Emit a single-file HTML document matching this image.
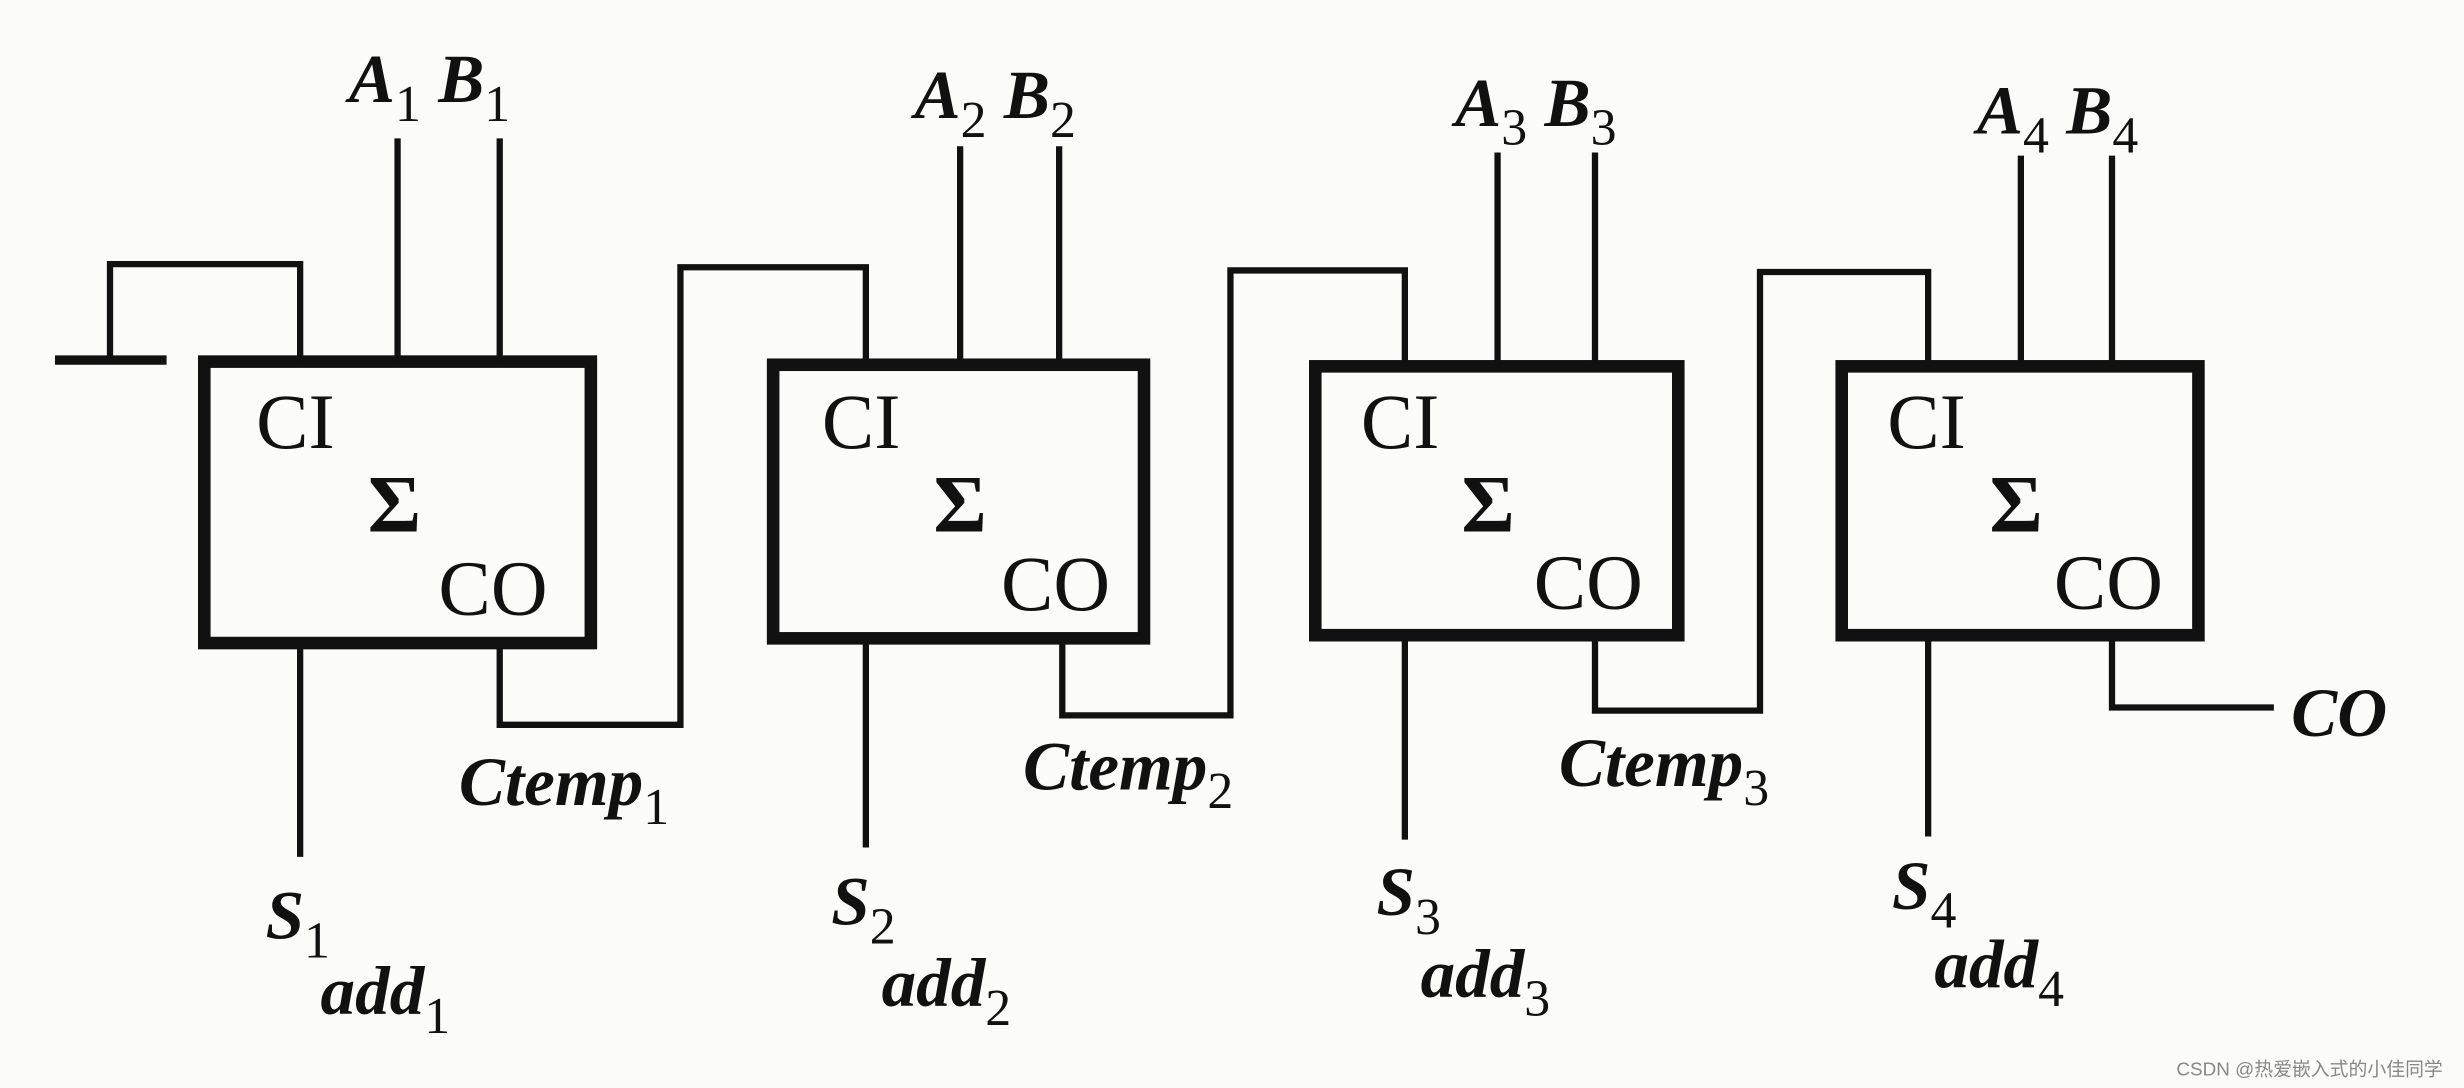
<!DOCTYPE html>
<html><head><meta charset="utf-8"><style>
html,body{margin:0;padding:0;background:#fbfbfa;}
svg{display:block}
text{font-family:"Liberation Serif",serif;fill:#111;}
.i{font-style:italic;font-weight:bold;font-size:44px}
.s{font-size:33px;font-style:normal;font-weight:normal}
.r{font-size:50px}
.sg{font-size:52px;font-weight:bold}
</style></head><body>
<svg width="2464" height="1088" viewBox="0 0 1568 692" preserveAspectRatio="none">
<g fill="none" stroke="#111" stroke-width="8">
<rect x="130" y="230" width="246" height="179"/>
<rect x="492" y="232" width="236" height="174"/>
<rect x="837" y="233" width="231" height="171"/>
<rect x="1172" y="233" width="227" height="171"/>
</g>
<g fill="none" stroke="#111" stroke-width="4">
<line x1="253" y1="88" x2="253" y2="230"/><line x1="318" y1="88" x2="318" y2="230"/>
<line x1="611" y1="93" x2="611" y2="232"/><line x1="674" y1="93" x2="674" y2="232"/>
<line x1="953" y1="97" x2="953" y2="233"/><line x1="1015" y1="97" x2="1015" y2="233"/>
<line x1="1286" y1="99" x2="1286" y2="233"/><line x1="1344" y1="99" x2="1344" y2="233"/>
<polyline points="191,230 191,168 70,168 70,229"/>
<line x1="35" y1="229" x2="106" y2="229" stroke-width="6"/>
<line x1="191" y1="409" x2="191" y2="545"/>
<line x1="551" y1="406" x2="551" y2="539"/>
<line x1="894" y1="404" x2="894" y2="534"/>
<line x1="1227" y1="404" x2="1227" y2="532"/>
<polyline points="318,409 318,461 433,461 433,170 551,170 551,232"/>
<polyline points="676,406 676,455 783,455 783,172 894,172 894,233"/>
<polyline points="1015,404 1015,452 1120,452 1120,173 1227,173 1227,233"/>
<polyline points="1344,404 1344,450 1447,450"/>
</g>
<g>
<text class="i" x="222" y="65">A<tspan class="s" dy="12">1</tspan><tspan dy="-12"> B</tspan><tspan class="s" dy="12">1</tspan></text>
<text class="i" x="582" y="75">A<tspan class="s" dy="12">2</tspan><tspan dy="-12"> B</tspan><tspan class="s" dy="12">2</tspan></text>
<text class="i" x="926" y="80">A<tspan class="s" dy="12">3</tspan><tspan dy="-12"> B</tspan><tspan class="s" dy="12">3</tspan></text>
<text class="i" x="1258" y="85">A<tspan class="s" dy="12">4</tspan><tspan dy="-12"> B</tspan><tspan class="s" dy="12">4</tspan></text>

<text class="r" x="163" y="285">CI</text><text class="sg" x="234" y="338">Σ</text><text class="r" x="279" y="391">CO</text>
<text class="r" x="523" y="285">CI</text><text class="sg" x="594" y="338">Σ</text><text class="r" x="637" y="388">CO</text>
<text class="r" x="866" y="285">CI</text><text class="sg" x="930" y="338">Σ</text><text class="r" x="976" y="387">CO</text>
<text class="r" x="1201" y="285">CI</text><text class="sg" x="1266" y="338">Σ</text><text class="r" x="1307" y="387">CO</text>

<text class="i" x="292" y="512">Ctemp<tspan class="s" dy="12">1</tspan></text>
<text class="i" x="651" y="502">Ctemp<tspan class="s" dy="12">2</tspan></text>
<text class="i" x="992" y="500">Ctemp<tspan class="s" dy="12">3</tspan></text>
<text class="i" x="1458" y="468">CO</text>

<text class="i" x="169" y="597">S<tspan class="s" dy="12">1</tspan></text>
<text class="i" x="204" y="645">add<tspan class="s" dy="12">1</tspan></text>
<text class="i" x="529" y="588">S<tspan class="s" dy="12">2</tspan></text>
<text class="i" x="561" y="640">add<tspan class="s" dy="12">2</tspan></text>
<text class="i" x="876" y="582">S<tspan class="s" dy="12">3</tspan></text>
<text class="i" x="904" y="634">add<tspan class="s" dy="12">3</tspan></text>
<text class="i" x="1204" y="578">S<tspan class="s" dy="12">4</tspan></text>
<text class="i" x="1231" y="628">add<tspan class="s" dy="12">4</tspan></text>

<text x="1385" y="684" style="font-family:'Liberation Sans','Noto Sans CJK SC',sans-serif;font-size:12px;fill:#888">CSDN @热爱嵌入式的小佳同学</text>
</g>
</svg>
</body></html>
